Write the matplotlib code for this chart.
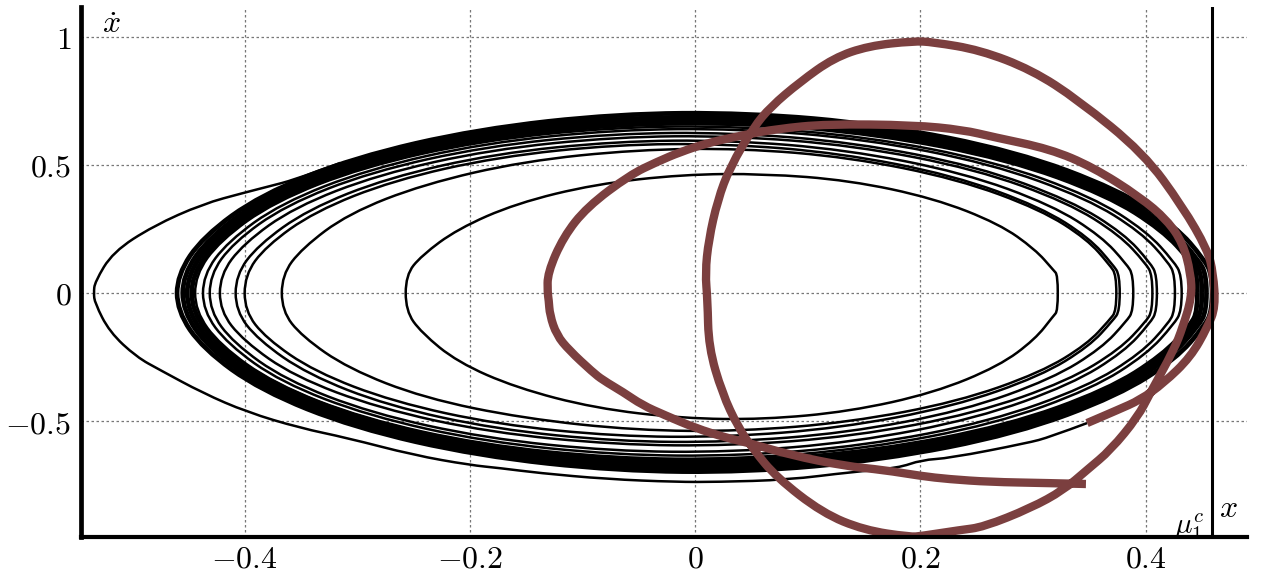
import matplotlib
matplotlib.use('Agg')
import matplotlib.pyplot as plt
from matplotlib.path import Path
from matplotlib.patches import PathPatch

plt.rcParams['mathtext.fontset'] = 'cm'
plt.rcParams['font.family'] = 'serif'

x_ticks = [-0.4, -0.2, 0, 0.2, 0.4]
x_tick_labels = ['$-0.4$', '$-0.2$', '$0$', '$0.2$', '$0.4$']
y_ticks = [-0.5, 0, 0.5, 1]
y_tick_labels = ['$-0.5$', '$0$', '$0.5$', '$1$']
mu_c = 0.459

# thin nested orbits, upper and lower branch on the same x samples
orbit1_x = [.322, .318, .302, .270, .212, .137, .061, -.011, -.089, -.159, -.211, -.243, -.257]
orbit1_top = [.07, .09, .17, .27, .37, .44, .466, .463, .425, .35, .25, .146, .07]
orbit1_bot = [-.07, -.09, -.18, -.285, -.39, -.463, -.494, -.49, -.45, -.37, -.27, -.155, -.07]

orbit2_x = [.374, .368, .348, .307, .233, .137, .041, -.052, -.152, -.241, -.308, -.349, -.367]
orbit2_top = [.07, .11, .21, .325, .445, .53, .565, .56, .515, .425, .31, .175, .07]
orbit2_bot = [-.07, -.105, -.20, -.31, -.425, -.505, -.54, -.537, -.49, -.41, -.295, -.17, -.07]

orbit3_x = [.377, .371, .350, .307, .229, .128, .027, -.070, -.175, -.268, -.338, -.381, -.400]
orbit3_top = [.07, .11, .215, .335, .46, .547, .583, .58, .532, .44, .318, .183, .07]
orbit3_bot = [-.07, -.107, -.208, -.324, -.444, -.528, -.563, -.56, -.514, -.425, -.307, -.177, -.07]

orbit4_x = [.389, .383, .361, .317, .238, .134, .030, -.069, -.177, -.273, -.344, -.388, -.408]
orbit4_top = [.07, .113, .22, .343, .47, .56, .597, .593, .545, .45, .326, .187, .07]
orbit4_bot = [-.07, -.11, -.215, -.335, -.46, -.547, -.583, -.58, -.532, -.44, -.318, -.183, -.07]

orbit5_x = [.406, .400, .377, .331, .249, .141, .033, -.070, -.182, -.281, -.356, -.401, -.422]
orbit5_top = [.07, .116, .226, .353, .484, .576, .614, .61, .56, .463, .335, .193, .07]
orbit5_bot = [-.07, -.113, -.22, -.343, -.47, -.56, -.597, -.593, -.545, -.45, -.326, -.187, -.07]

orbit6_x = [.410, .404, .381, .334, .250, .141, .032, -.074, -.187, -.288, -.364, -.410, -.431]
orbit6_top = [.07, .118, .231, .36, .495, .588, .627, .623, .572, .473, .342, .197, .07]
orbit6_bot = [-.07, -.117, -.229, -.357, -.49, -.583, -.622, -.618, -.567, -.469, -.339, -.195, -.07]

orbit7_x = [.426, .420, .396, .348, .262, .150, .038, -.070, -.187, -.290, -.368, -.415, -.437]
orbit7_top = [.07, .121, .237, .369, .506, .602, .642, .638, .586, .484, .35, .201, .07]
orbit7_bot = [-.07, -.12, -.235, -.366, -.502, -.597, -.637, -.633, -.581, -.48, -.348, -.20, -.07]

orbit8_x = [.432, .425, .401, .353, .266, .152, .038, -.072, -.190, -.295, -.374, -.422, -.444]
orbit8_top = [.07, .123, .24, .375, .514, .611, .652, .648, .595, .492, .356, .204, .07]
orbit8_bot = [-.07, -.122, -.239, -.373, -.512, -.608, -.649, -.645, -.592, -.49, -.354, -.203, -.07]

# dense outer band
band1_x = [.446, .440, .415, .366, .277, .161, .045, -.067, -.188, -.295, -.375, -.424, -.447]
band1_top = [.07, .125, .245, .382, .524, .623, .665, .661, .607, .502, .363, .208, .07]
band1_bot = [-.07, -.124, -.243, -.379, -.52, -.618, -.659, -.655, -.601, -.497, -.359, -.207, -.07]

band2_x = [.450, .443, .419, .369, .280, .162, .045, -.068, -.189, -.297, -.379, -.428, -.451]
band2_top = [.07, .127, .25, .389, .534, .634, .677, .673, .617, .511, .369, .212, .07]
band2_bot = [-.07, -.126, -.248, -.387, -.531, -.631, -.673, -.669, -.614, -.508, -.367, -.211, -.07]

band3_x = [.454, .447, .422, .372, .282, .164, .045, -.068, -.191, -.300, -.382, -.432, -.455]
band3_top = [.07, .129, .254, .396, .543, .646, .689, .684, .628, .52, .376, .216, .07]
band3_bot = [-.07, -.128, -.252, -.394, -.54, -.642, -.685, -.68, -.625, -.517, -.374, -.215, -.07]

band4_x = [.459, .452, .427, .376, .285, .165, .046, -.069, -.193, -.303, -.386, -.437, -.460]
band4_top = [.07, .131, .259, .403, .553, .658, .704, .700, .64, .529, .383, .22, .07]
band4_bot = [-.07, -.13, -.257, -.40, -.55, -.653, -.700, -.695, -.636, -.526, -.38, -.218, -.07]

# first loop of the black trajectory, it leaves the end of the red one
outer_x = [.348, .315, .295, .226, .201, .180, .139, .082, .020, -.017, -.078, -.139, -.173, -.200,
           -.250, -.309, -.351, -.398, -.437, -.475, -.496, -.520, -.533, -.534, -.533, -.517, -.481,
           -.437, -.401, -.377, -.357, -.315]
outer_y = [-.508, -.5625, -.586, -.645, -.652, -.684, -.699, -.730, -.738, -.738, -.727, -.703, -.684, -.672,
           -.633, -.566, -.527, -.465, -.391, -.301, -.25, -.152, -.039, 0, .043, .16, .262,
           .348, .391, .418, .441, .508]

red_x = [.347, .310, .262, .225, .201, .167, .133, .085, .048, .028, 0, -.027, -.047, -.064, -.082, -.091,
         -.112, -.123, -.129, -.130, -.131, -.131, -.117, -.096, -.058, -.034, -.013, .011, .043, .073,
         .117, .194, .238, .265, .315, .353, .395, .419, .433, .440, .441, .433, .425, .404, .393, .369,
         .348, .327, .298, .256, .235, .201, .191, .150, .113, .072, .052, .038, .024, .012, .011, .009,
         .012, .020, .031, .052, .067, .093, .123, .154, .194, .211, .253, .299, .340, .398, .433, .455,
         .460, .462, .455, .440, .416, .395, .375, .348]
red_y = [-.746, -.742, -.738, -.727, -.715, -.691, -.676, -.633, -.586, -.566, -.527, -.477, -.4375, -.387, -.340, -.309,
         -.223, -.164, -.086, -.027, 0, .078, .219, .336, .461, .512, .551, .586, .617, .641,
         .660, .656, .637, .609, .5625, .492, .375, .285, .195, .078, -.016, -.133, -.223, -.391, -.484, -.613,
         -.691, -.770, -.840, -.914, -.926, -.949, -.953, -.926, -.859, -.719, -.613, -.523, -.391, -.211, -.027, .078,
         .207, .363, .492, .648, .727, .824, .918, .965, .984, .980, .949, .871, .754, .547, .336, .168,
         .078, -.055, -.133, -.25, -.352, -.418, -.457, -.508]

orbits = [(orbit1_x, orbit1_top, orbit1_bot), (orbit2_x, orbit2_top, orbit2_bot),
          (orbit3_x, orbit3_top, orbit3_bot), (orbit4_x, orbit4_top, orbit4_bot),
          (orbit5_x, orbit5_top, orbit5_bot), (orbit6_x, orbit6_top, orbit6_bot),
          (orbit7_x, orbit7_top, orbit7_bot), (orbit8_x, orbit8_top, orbit8_bot)]
bands = [(band1_x, band1_top, band1_bot), (band2_x, band2_top, band2_bot),
         (band3_x, band3_top, band3_bot), (band4_x, band4_top, band4_bot)]

fig = plt.figure(figsize=(12.73, 5.74), dpi=100)
ax = fig.add_axes([81 / 1273, 37 / 574, 1166 / 1273, 530 / 574])
ax.set_xlim(-0.5453, 0.490)
ax.set_ylim(-0.953, 1.117)


def draw_curve(xs, ys, color, width, z, closed=False):
    # rounded path through the read points, they act as quadratic control points
    pts = list(zip(xs, ys))
    if closed:
        start = ((pts[-1][0] + pts[0][0]) / 2, (pts[-1][1] + pts[0][1]) / 2)
        verts = [start]
        inner = pts + pts[:1]
        last = len(inner) - 1
    else:
        verts = [pts[0]]
        inner = pts[1:]
        last = len(inner) - 1
    codes = [Path.MOVETO]
    for i, p in enumerate(inner):
        if i < last:
            q = inner[i + 1]
            verts += [p, ((p[0] + q[0]) / 2, (p[1] + q[1]) / 2)]
            codes += [Path.CURVE3, Path.CURVE3]
        elif closed:
            verts.append(start)
            codes.append(Path.LINETO)
        else:
            verts.append(p)
            codes.append(Path.LINETO)
    ax.add_patch(PathPatch(Path(verts, codes), fill=False, edgecolor=color, lw=width, zorder=z,
                           capstyle='butt', joinstyle='round'))


for xs, top, bot in orbits:
    draw_curve(xs + xs[::-1], top + bot[::-1], 'black', 1.8, 3, closed=True)
for xs, top, bot in bands:
    draw_curve(xs + xs[::-1], top + bot[::-1], 'black', 3.4, 3, closed=True)
draw_curve(outer_x, outer_y, 'black', 1.8, 3)
draw_curve(red_x, red_y, '#7b3f3f', 6, 4)
ax.plot([mu_c, mu_c], [-0.953, 1.117], color='black', lw=2.2, zorder=5)

ax.set_xticks(x_ticks)
ax.set_xticklabels(x_tick_labels)
ax.set_yticks(y_ticks)
ax.set_yticklabels(y_tick_labels)
ax.tick_params(axis='both', length=0, labelsize=23)
ax.tick_params(axis='x', pad=5)
ax.tick_params(axis='y', pad=7)
for label in ax.get_yticklabels():
    label.set_verticalalignment('center_baseline')
ax.grid(True, color='#777777', lw=0.9, ls=(0, (2, 2)), zorder=1)
ax.set_axisbelow(True)

for side in ['top', 'right']:
    ax.spines[side].set_visible(False)
ax.spines['left'].set_linewidth(3.4)
ax.spines['bottom'].set_linewidth(3.0)
ax.spines['left'].set_zorder(6)
ax.spines['bottom'].set_zorder(6)

ax.text(-0.527, 1.05, r'$\dot{x}$', fontsize=23, ha='left', va='center')
ax.text(0.465, -0.84, r'$x$', fontsize=23, ha='left', va='center')
ax.text(0.425, -0.915, r'$\mu_1^c$', fontsize=21, ha='left', va='center', clip_on=True)

fig.savefig('out.png', dpi=100)
